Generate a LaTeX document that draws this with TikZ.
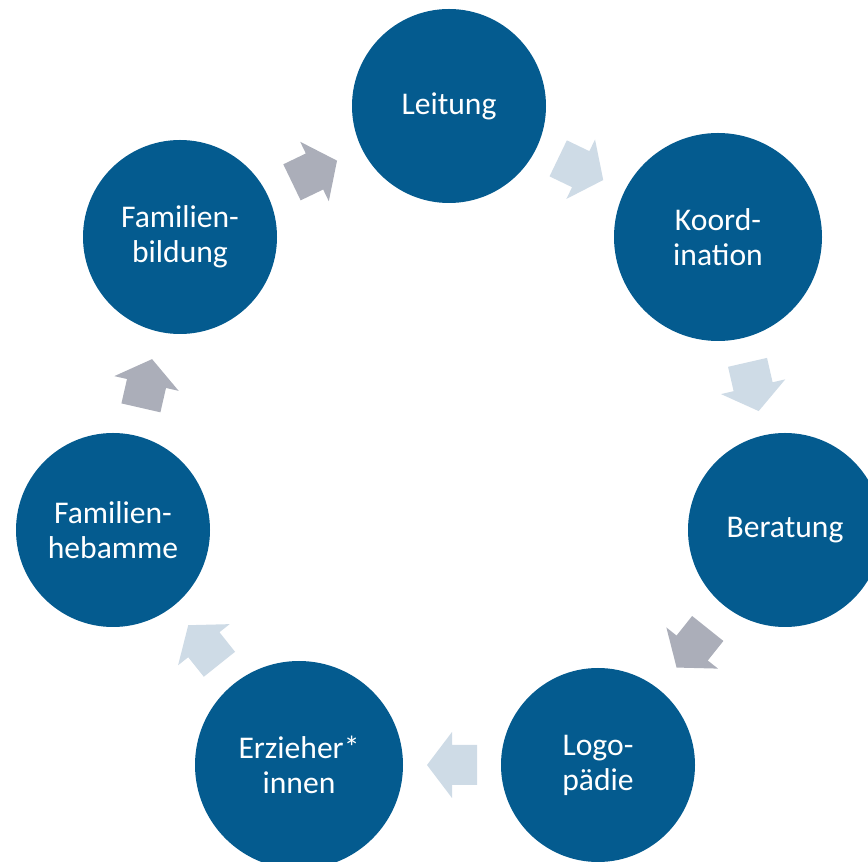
\documentclass[tikz,border=0pt]{standalone}
\usepackage{fontspec}
\setmainfont{Carlito}
\usetikzlibrary{calc}
\definecolor{circblue}{RGB}{4,91,143}
\definecolor{arrgray}{RGB}{171,174,185}
\definecolor{arrlight}{RGB}{206,219,230}
\tikzset{
  station/.style={circle, fill=circblue, text=white, minimum size=97pt, inner sep=0pt, outer sep=0pt, align=center,
    font=\fontsize{15.8}{17.5}\selectfont},
  bigstation/.style={station, minimum size=104pt},
  blockarr/.pic={\fill[pic actions] (-25,-20) -- (0,-20) -- (0,-33) -- (25,0) -- (0,33) -- (0,20) -- (-25,20) -- cycle;}
}
\begin{document}
\begin{tikzpicture}[x=0.5pt, y=0.5pt]
	\useasboundingbox (0,0) rectangle (868,862);
	\clip (0,0) rectangle (868,862);
	% stations of the cycle
	\node[station] (lei) at (449,756) {Leitung};
	\node[bigstation] (koo) at (718,625) {Koord-\\ination};
	\node[station] (ber) at (785,332) {Beratung};
	\node[station] (logo) at (598,97) {Logo-\\pädie};
	\node[bigstation] (erz) at (299,97) {Erzieher*\\innen};
	\node[station] (heb) at (113,332) {Familien-\\hebamme};
	\node[station] (bil) at (180,625) {Familien-\\bildung};
	% block arrows between them
	\foreach \a/\b/\ang/\col [evaluate=\ang as \angb using \ang+180] in {lei/koo/-25.7/arrlight, koo/ber/-77.1/arrlight, ber/logo/-128.6/arrgray,
	  logo/erz/180/arrlight, erz/heb/128.6/arrlight, heb/bil/77.1/arrgray, bil/lei/25.7/arrgray}
	  \pic[rotate=\ang, fill=\col] at ($(\a.\ang)!0.5!(\b.\angb)$) {blockarr};
\end{tikzpicture}
\end{document}
